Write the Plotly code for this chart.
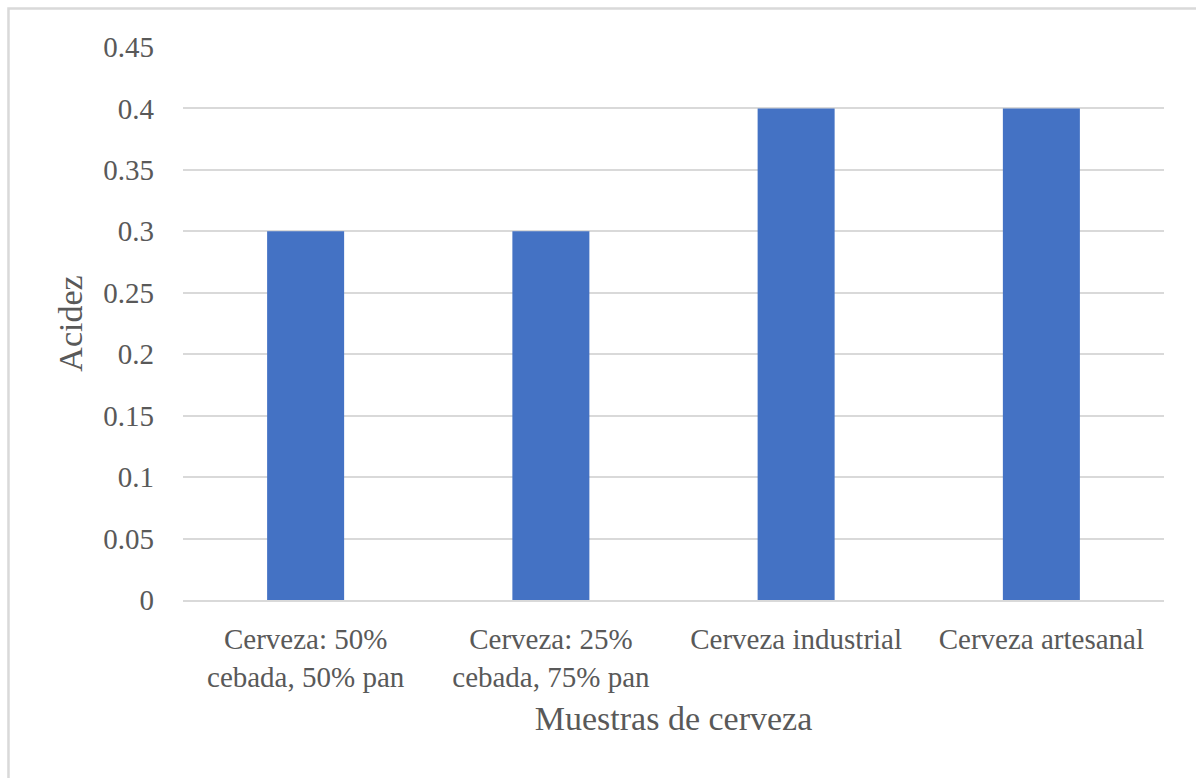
import plotly.graph_objects as go

categories = ["Cerveza: 50%<br>cebada, 50% pan", "Cerveza: 25%<br>cebada, 75% pan",
              "Cerveza industrial", "Cerveza artesanal"]
acidez = [0.3, 0.3, 0.4, 0.4]
y_ticks = [0, 0.05, 0.1, 0.15, 0.2, 0.25, 0.3, 0.35, 0.4, 0.45]
y_tick_text = ["0", "0.05", "0.1", "0.15", "0.2", "0.25", "0.3", "0.35", "0.4", "0.45"]

FONT = "Liberation Serif, Times New Roman, serif"
TXT = "#595959"
GRID = "#d9d9d9"

fig = go.Figure(go.Bar(x=categories, y=acidez, marker_color="#4472C4",
                       marker_line_width=0))

fig.update_layout(
    width=1196, height=778,
    margin=dict(l=183, r=32, t=47, b=178),
    paper_bgcolor="white", plot_bgcolor="white",
    bargap=0.686,
    showlegend=False,
    font=dict(family=FONT, color=TXT, size=29),
    # chart frame (runs past the right and bottom edges)
    shapes=[dict(type="rect", xref="paper", yref="paper",
                 x0=-0.1779, x1=1.06, y0=-0.5, y1=1.0696,
                 line=dict(color=GRID, width=2.5))],
)
fig.update_xaxes(showgrid=False, showline=True, linecolor=GRID, linewidth=2,
                 ticklabelstandoff=12,
                 tickfont=dict(size=29, family=FONT, color=TXT),
                 title=dict(text="Muestras de cerveza", font=dict(size=34, family=FONT, color=TXT),
                            standoff=15))
fig.update_yaxes(range=[0, 0.45], tickvals=y_ticks, ticktext=y_tick_text,
                 showgrid=True, gridcolor=GRID, gridwidth=2, zeroline=False,
                 ticklabelstandoff=28,
                 tickfont=dict(size=29, family=FONT, color=TXT),
                 title=dict(text="Acidez", font=dict(size=34, family=FONT, color=TXT),
                            standoff=10))

fig.write_html("out.html")
